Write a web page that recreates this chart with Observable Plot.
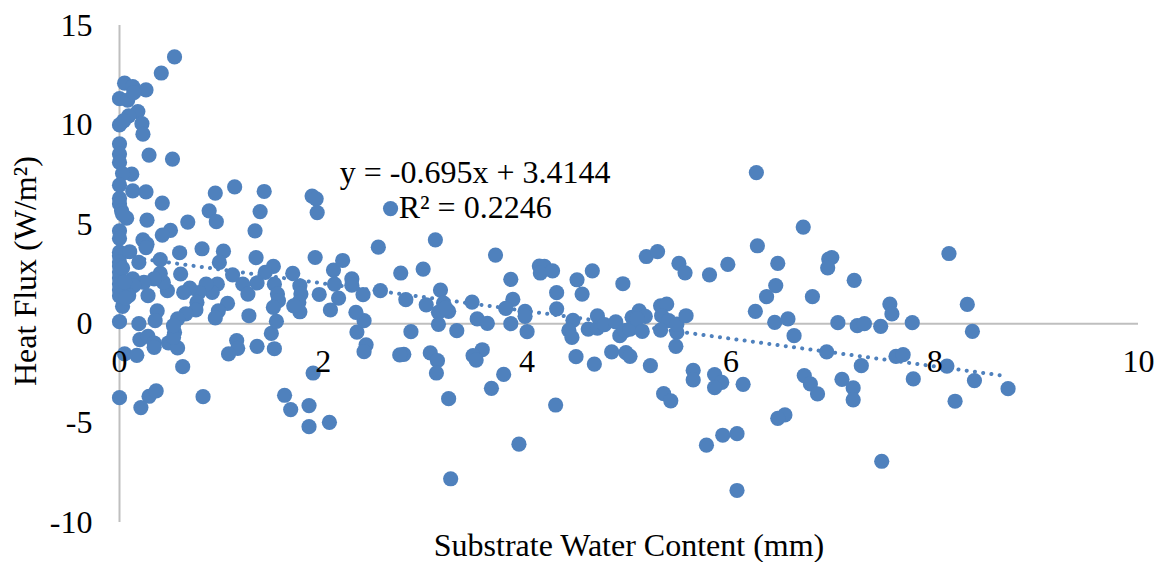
<!DOCTYPE html>
<html><head><meta charset="utf-8">
<script src="https://cdn.jsdelivr.net/npm/d3@7"></script>
<script src="https://cdn.jsdelivr.net/npm/@observablehq/plot@0.6"></script>
<style>html,body{margin:0;padding:0;background:#fff}svg{display:block}</style>
</head><body><div id="chart"></div>
<script>
const waterRight = [6.25,6.71,6.26,8.14,6.46,5.97,5.79,6.99,6.96,6.95,7.21,6.44,6.35,6.80,8.32,7.56,7.58,6.24,6.43,6.56,7.05,7.24,7.31,7.47,7.78,8.37,6.62,6.94,7.62,7.69,7.28,8.12,5.84,5.91,5.84,6.12,6.72,6.78,6.85,7.09,7.20,7.20,7.79,8.39,8.72,8.20,6.53,6.46,6.06,5.92,5.76,7.48,6.06];
const fluxRight = [7.60,4.86,3.92,3.53,3.03,2.98,2.46,3.33,3.25,2.81,2.18,1.92,1.36,1.36,0.97,0.99,0.49,0.62,0.07,0.24,0.05,-0.10,0.0,-0.13,0.05,-0.39,-0.60,-1.42,-1.64,-1.56,-2.11,-2.13,-2.56,-2.95,-3.22,-3.05,-2.61,-3.03,-3.53,-2.80,-3.23,-3.83,-2.78,-2.86,-3.27,-3.90,-4.59,-4.76,-5.53,-5.61,-6.11,-6.92,-8.39];

const waterMiddle = [3.10,3.69,2.98,2.76,3.84,4.12,4.17,4.13,4.25,4.49,4.64,4.94,5.17,5.28,5.49,5.55,4.29,4.54,3.15,2.81,3.01,3.18,3.23,3.13,3.20,3.13,3.46,3.51,3.61,3.86,3.79,3.84,3.98,3.98,4.00,4.29,2.86,3.31,4.45,4.41,4.44,4.60,4.69,4.69,4.76,4.87,4.91,4.96,5.01,5.03,5.10,5.16,5.08,5.13,5.31,5.37,5.32,5.39,5.31,5.47,5.47,5.56,5.46,4.48,4.66,4.83,4.97,5.01,5.21,5.63,5.63,5.34,5.41,4.28,3.92,3.25,2.79,3.05,3.12,3.11,3.56,3.47,3.50,3.77,3.65,3.23];
const fluxMiddle = [4.22,3.45,2.75,2.55,2.23,2.90,2.88,2.55,2.66,2.21,2.66,2.01,3.38,3.63,3.03,2.56,1.56,1.49,1.69,1.21,0.95,1.04,0.62,0.57,0.79,-0.03,1.09,0.24,0.02,1.22,0.77,0.0,0.62,0.37,-0.40,0.75,-0.40,-0.35,0.17,-0.34,-0.69,-0.27,-0.22,0.39,-0.05,0.09,-0.60,-0.35,-0.27,0.32,0.65,0.37,0.24,-0.39,0.90,0.99,0.40,0.15,-0.32,-0.44,-0.02,0.40,-1.14,-1.66,-2.03,-1.42,-1.46,-1.64,-2.11,-2.35,-2.83,-3.52,-3.88,-4.09,-6.06,-7.80,-1.54,-1.47,-1.86,-2.48,-1.31,-1.61,-1.83,-2.55,-3.25,-3.77];

const waterLeftLow = [0.19,0,0.20,0.28,0.34,0.34,0.48,0.57,0.54,0.53,0.05,0.17,0.62,1.15,1.16,1.07,1.35,1.52,1.49,1.90,0,0.29,0.36,0.21,0.82,1.62,1.68,1.86,1.86,2.06,2.33,2.40,2.32,2.42,2.40,2.75,2.56,2.39,2.28,2.28,2.15,2.07,2.11,2.10,1.96,1.77,1.77,1.78,1.76,1.70,1.71,1.52,1.55,1.56,1.51,1.54,1.51,1.43,1.35,1.21,1.11,1.26,1.27,1.06,0.97,0.94,0.96,0.91,0.85,0.78,0.76,0.75,0.65,0.57,0.53,0.69,0.63,0.60,0.47,0.43,0.40,0.37,0.35,0.28,0.34,0.24,0.13,0.14,0.09,0.03,0,0,0,0,0,0,0,0,0,0.03,0.05,0.06];
const fluxLeftLow = [0,0.10,-0.80,-0.64,-0.97,-1.19,-0.97,-1.22,-0.44,-0.69,-1.52,-1.59,-2.16,-0.85,-1.24,-1.52,-1.14,-1.26,-0.49,-2.48,-3.72,-3.65,-3.38,-4.22,-3.67,-3.60,-4.32,-4.12,-5.18,-4.96,-0.42,0.15,0.57,-1.06,-1.41,-1.57,1.66,1.46,2.25,1.94,1.29,0.69,1.99,2.70,1.47,0.60,1.91,1.49,1.07,2.53,0.90,1.99,1.49,1.16,0.82,0.12,2.88,2.58,2.05,1.99,2.46,1.49,0.40,1.02,0.65,0.29,1.99,1.57,1.99,1.57,1.07,0.69,0.49,0.24,-0.10,1.79,1.57,2.50,1.66,2.08,2.53,0.65,0.15,1.41,2.25,2.08,2.25,1.91,1.41,0.87,3.6,3.4,3.1,2.9,2.6,2.3,2.0,1.7,1.4,2.8,2.1,1.3];

const waterLeftHigh = [0.54,0.41,0.05,0.13,0.26,0,0.08,0.14,0.18,0.09,0,0.04,0.22,0.23,0,0,0,0.29,0.52,0.12,0.03,0,0.13,0.26,0,0,0.02,0.07,0.03,0.42,0.27,1.13,0.94,1.42,1.89,1.93,2.66,1.94,1.38,0.88,0.95,0.67,0.50,0.42,1.33,0,0,0.23,0.27,0.26,0.59,0.81,1.02,0.98,2.54,1.34,1.92,2.19,0.10,0.19,0.40];
const fluxLeftHigh = [13.42,12.61,12.10,11.93,11.76,11.32,11.24,11.62,10.67,10.45,10.0,10.2,10.06,9.53,9.05,8.53,8.11,8.48,8.28,7.52,7.55,6.97,6.68,6.63,6.30,6.03,5.68,5.31,5.51,6.07,5.21,6.88,6.57,6.65,6.42,6.28,5.79,5.59,5.64,5.68,5.13,5.11,4.69,4.46,4.67,4.67,4.29,4.22,4.0,3.83,3.57,3.77,3.65,3.08,3.85,3.32,3.33,3.18,3.62,3.08,3.22];

const waterContent = [...waterRight, ...waterMiddle, ...waterLeftLow, ...waterLeftHigh];
const heatFlux = [...fluxRight, ...fluxMiddle, ...fluxLeftLow, ...fluxLeftHigh];
const points = waterContent.map((x, i) => ({x, y: heatFlux[i]}));

const slope = -0.695, intercept = 3.4144;
const trendX = [0, 8.69];
const trendY = [3.4144, -2.625];
const trend = trendX.map((x, i) => ({x, y: trendY[i]}));
const xTicks = [0, 2, 4, 6, 8, 10];
const yTicks = [-10, -5, 0, 5, 10, 15];
const serif = "'Liberation Serif','Times New Roman',serif";

const chart = Plot.plot({
  width: 1165, height: 562,
  marginLeft: 119, marginRight: 27, marginTop: 25, marginBottom: 40,
  style: {fontFamily: serif, background: "#fff"},
  x: {domain: [0, 10], label: null, axis: null},
  y: {domain: [-10, 15], label: null, axis: null},
  marks: [
    Plot.ruleY([0], {x1: 0, x2: 10, stroke: "#bfbfbf", strokeWidth: 2}),
    Plot.ruleX([0], {y1: -10, y2: 15, stroke: "#bfbfbf", strokeWidth: 2}),
    Plot.line(trend, {x: "x", y: "y", stroke: "#4f81bd", strokeWidth: 4, strokeDasharray: "0.1 8.2", strokeLinecap: "round"}),
    Plot.dot(points, {x: "x", y: "y", r: 7.6, fill: "#4f81bd", stroke: "none"}),
    Plot.text(yTicks, {x: 0, y: d => d, dx: -27, textAnchor: "end", text: d => String(d), fontSize: 32, fill: "#000"}),
    Plot.text(xTicks, {x: d => d, y: 0, dy: 38, text: d => String(d), fontSize: 32, fill: "#000"}),
    Plot.text(["Heat Flux (W/m²)"], {frameAnchor: "left", dx: -94, dy: -3, rotate: -90, textAnchor: "middle", text: d => d, fontSize: 32, fill: "#000"}),
    Plot.text(["Substrate Water Content (mm)"], {x: 5, frameAnchor: "bottom", dy: 33, text: d => d, fontSize: 32, fill: "#000"}),
    Plot.text([`y = ${slope}x + ${intercept}`], {x: 3.49, y: 7.6, text: d => d, fontSize: 32, fill: "#000"}),
    Plot.text(["R² = 0.2246"], {x: 3.49, y: 5.85, text: d => d, fontSize: 32, fill: "#000"})
  ]
});
document.getElementById("chart").append(chart);
</script></body></html>
